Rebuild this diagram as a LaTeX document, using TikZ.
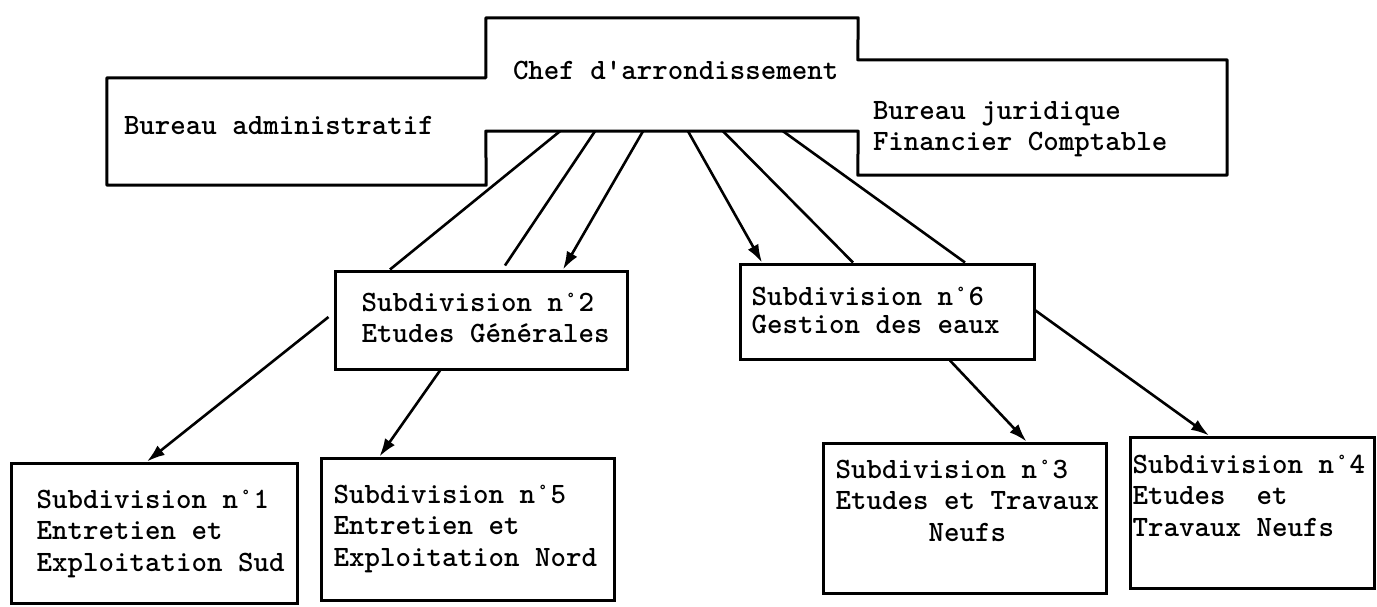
\documentclass[tikz,border=0pt]{standalone}
\usepackage{tikz}
\usetikzlibrary{positioning,arrows.meta}

\tikzset{
  box/.style={draw, line width=3pt, inner sep=0pt},
  frame/.style={draw=none, inner sep=0pt},
  outline/.style={line width=3pt, line join=round},
  lbl/.style={inner sep=0pt, anchor=north west, align=left,
    font=\fontsize{29.5}{31.5}\selectfont\ttfamily\bfseries},
  link/.style={line width=2.6pt},
  arrow/.style={line width=2.6pt, -{Latex[length=18pt,width=12pt]}}
}

\begin{document}
\begin{tikzpicture}[x=1pt,y=1pt,yscale=-1,xscale=1]
\useasboundingbox (0,0) rectangle (1377,606);

%Shape: top frames [adm, chef, jur]
\node[frame, minimum width=379pt, minimum height=107pt] (adm) at (296.5,131.5) {};
\node[frame, minimum width=372pt, minimum height=113pt] (chef) at (672,74.5) {};
\node[frame, minimum width=369pt, minimum height=115pt] (jur) at (1042.5,117.5) {};
\draw[outline] (chef.north west) -- (chef.north west |- adm.north) -- (adm.north west)
  -- (adm.south west) -- (adm.south east) -- (chef.south west) -- (chef.south east)
  -- (jur.south west) -- (jur.south east) -- (jur.north east) -- (jur.north west)
  -- (chef.north east) -- cycle;
\node[lbl] (admtxt) at ([xshift=17pt,yshift=38pt]adm.north west) {Bureau administratif};
\node[lbl] (cheftxt) at ([xshift=27pt,yshift=43pt]chef.north west) {Chef d'arrondissement};
\node[lbl] (jurtxt) at ([xshift=15pt,yshift=41pt]jur.north west) {Bureau juridique\\Financier Comptable};

%Shape: Rectangle [sub2]
\node[box, minimum width=292pt, minimum height=98pt] (sub2) at (481,320) {};
\node[lbl] (sub2txt) at ([xshift=28pt,yshift=23pt]sub2.north west) {Subdivision n°2\\Etudes Générales};
%Shape: Rectangle [sub6]
\node[box, minimum width=294pt, minimum height=95pt] (sub6) at (887,311.5) {};
\node[lbl, font=\fontsize{29.5}{28}\selectfont\ttfamily\bfseries] (sub6txt) at ([xshift=13pt,yshift=24pt]sub6.north west) {Subdivision n°6\\Gestion des eaux};

%Shape: Rectangle [sub1]
\node[box, minimum width=286pt, minimum height=140pt] (sub1) at (154,533) {};
\node[lbl] (sub1txt) at ([xshift=27pt,yshift=28pt]sub1.north west) {Subdivision n°1\\Entretien et\\Exploitation Sud};
%Shape: Rectangle [sub5]
\node[box, minimum width=293pt, minimum height=142pt] (sub5) at (467.5,529) {};
\node[lbl] (sub5txt) at ([xshift=14pt,yshift=28pt]sub5.north west) {Subdivision n°5\\Entretien et\\Exploitation Nord};
%Shape: Rectangle [sub3]
\node[box, minimum width=283pt, minimum height=150pt] (sub3) at (964.5,518) {};
\node[lbl] (sub3txt) at ([xshift=14pt,yshift=18pt]sub3.north west) {Subdivision n°3\\Etudes et Travaux\\\hphantom{Etudes}Neufs};
%Shape: Rectangle [sub4]
\node[box, minimum width=244pt, minimum height=151pt] (sub4) at (1252,512.5) {};
\node[lbl] (sub4txt) at ([xshift=4pt,yshift=19pt]sub4.north west) {Subdivision n°4\\Etudes\ \ et\\Travaux Neufs};

%Lines from the chef
\draw[link] ([xshift=-112pt]chef.south) -- ([xshift=-91pt]sub2.north);
\draw[link] ([xshift=-77pt]chef.south) -- ([xshift=24pt,yshift=-4pt]sub2.north);
\draw[arrow] ([xshift=-29pt]chef.south) -- ([xshift=82pt]sub2.north);
\draw[arrow] ([xshift=16pt]chef.south) -- ([xshift=-125pt]sub6.north);
\draw[link] ([xshift=51pt]chef.south) -- ([xshift=-34pt]sub6.north);
\draw[link] ([xshift=111pt]chef.south) -- ([xshift=78pt]sub6.north);

%Lines to the lower row
\draw[arrow] ([xshift=-5pt,yshift=-3pt]sub2.west) -- ([xshift=-7pt]sub1.north);
\draw[arrow] ([xshift=-41pt]sub2.south) -- ([xshift=-88pt]sub5.north);
\draw[arrow] ([xshift=63pt]sub6.south) -- ([xshift=62pt]sub3.north);
\draw[arrow] ([yshift=-1pt]sub6.east) -- ([xshift=-43pt]sub4.north);

\end{tikzpicture}
\end{document}
